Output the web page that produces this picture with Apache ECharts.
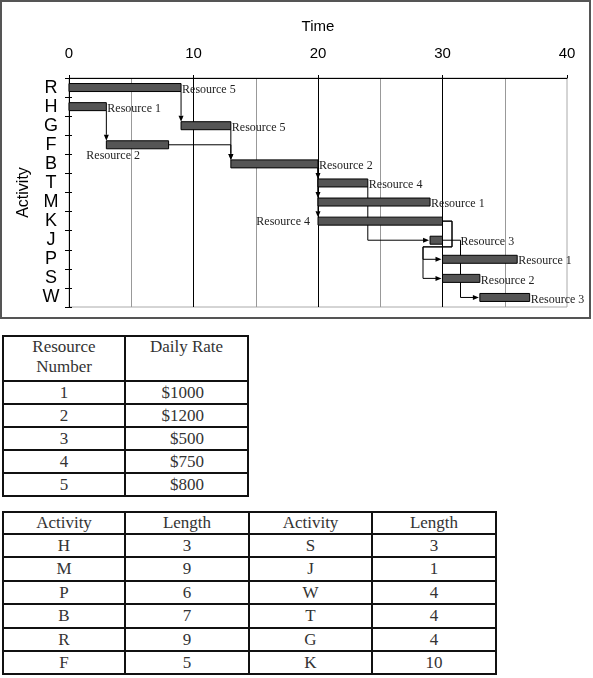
<!DOCTYPE html>
<html><head><meta charset="utf-8">
<script src="https://cdn.jsdelivr.net/npm/echarts@6/dist/echarts.min.js"></script>
<style>
html,body{margin:0;padding:0;background:#fff;width:593px;height:678px;overflow:hidden;}
#chart{position:absolute;left:0;top:0;width:593px;height:320px;}
#frame{position:absolute;left:0;top:0;width:591px;height:319px;box-sizing:border-box;border:2px solid #555;pointer-events:none;}
.cell{position:absolute;box-sizing:border-box;border:2px solid #111;font-family:'Liberation Serif',serif;font-size:17px;color:#333;display:flex;align-items:center;justify-content:center;}
</style></head><body>
<div id="chart"></div><div id="frame"></div><div id="tables"></div>
<script>
// ---- Gantt data ----
const activities = ['R','H','G','F','B','T','M','K','J','P','S','W'];
const startTimes = [0, 0, 9, 3, 13, 20, 20, 20, 29, 30, 30, 33];
const durations  = [9, 3, 4, 5, 7, 4, 9, 10, 1, 6, 3, 4];
const resourceIds = [5, 1, 5, 2, 2, 4, 1, 4, 3, 1, 2, 3];
const precedence = [['R','G'],['H','F'],['G','B'],['F','B'],['B','T'],['B','M'],['B','K'],['T','J'],['J','W'],['K','P'],['K','S']];

// ---- table data ----
const resourceNumbers = [1, 2, 3, 4, 5];
const dailyRates = ['$1000', '$1200', '$500', '$750', '$800'];
const tableActivities = ['H','M','P','B','R','F','S','J','W','T','G','K'];
const tableLengths = [3, 9, 6, 7, 9, 5, 3, 1, 4, 4, 4, 10];

// ---- styling / routing (not data) ----
const linkRoute = {'F-B':'hv','T-J':'vh','J-W':'elbow','K-P':'bracket','K-S':'bracket'};
const labelPlace = {F:'below', K:'left', J:'far'};
const barH = 8, AL = 6, AW = 2.5;

const chart = echarts.init(document.getElementById('chart'));

const barData = activities.map((a,i)=>[startTimes[i], startTimes[i]+durations[i], i, resourceIds[i]]);
const linkData = precedence.map(([f,t])=>{
  const fi = activities.indexOf(f), ti = activities.indexOf(t);
  return [startTimes[fi]+durations[fi], fi, ti];
});

function renderBar(params, api){
  const s = api.value(0), e = api.value(1), i = api.value(2), r = api.value(3);
  const p0 = api.coord([s,i]), p1 = api.coord([e,i]);
  const cy = p0[1];
  const place = labelPlace[activities[i]] || 'right';
  let tx, ty, align = 'left';
  if (place==='right'){tx=p1[0]+1; ty=cy+2;}
  else if (place==='far'){tx=p1[0]+18; ty=cy+2;}
  else if (place==='left'){tx=p0[0]-8; ty=cy+1; align='right';}
  else {tx=p0[0]-20; ty=cy+11;}
  return {type:'group', children:[
    {type:'rect', shape:{x:p0[0], y:cy-barH/2, width:p1[0]-p0[0], height:barH},
     style:{fill:'#555', stroke:'#000', lineWidth:1}},
    {type:'text', style:{text:'Resource '+r, x:tx, y:ty, align:align, verticalAlign:'middle',
     fontSize:12, fontFamily:'Liberation Serif', fill:'#222'}}
  ]};
}

function arrowDown(x,y){return [[x,y],[x-AW,y-AL],[x+AW,y-AL]];}
function arrowRight(x,y){return [[x,y],[x-AL,y-AW],[x-AL,y+AW]];}

function renderLink(params, api){
  const fi = api.value(1), ti = api.value(2);
  const route = linkRoute[activities[fi]+'-'+activities[ti]] || 'drop';
  const fe = api.coord([startTimes[fi]+durations[fi], fi]);
  const ts = api.coord([startTimes[ti], ti]);
  const band = api.size([0,1])[1];
  const h = barH/2;
  let pts, arrow;
  if (route==='drop'){
    pts = [[fe[0], fe[1]+h],[fe[0], ts[1]-h-AL]];
    arrow = arrowDown(fe[0], ts[1]-h);
  } else if (route==='hv'){
    pts = [[fe[0], fe[1]],[ts[0], fe[1]],[ts[0], ts[1]-h-AL]];
    arrow = arrowDown(ts[0], ts[1]-h);
  } else if (route==='vh'){
    pts = [[fe[0], fe[1]+h],[fe[0], ts[1]],[ts[0]-AL, ts[1]]];
    arrow = arrowRight(ts[0]-1, ts[1]);
  } else if (route==='elbow'){
    const xr = fe[0]+18;
    pts = [[fe[0], fe[1]],[xr, fe[1]],[xr, ts[1]],[ts[0]-AL, ts[1]]];
    arrow = arrowRight(ts[0]-1, ts[1]);
  } else {
    const xr = fe[0]+9.5, yb = fe[1]+1.35*band, xl = ts[0]-19.5;
    pts = [[fe[0], fe[1]],[xr, fe[1]],[xr, yb],[xl, yb],[xl, ts[1]],[ts[0]-AL, ts[1]]];
    arrow = arrowRight(ts[0]-1, ts[1]);
  }
  return {type:'group', children:[
    {type:'polyline', shape:{points:pts}, style:{stroke:'#000', lineWidth:1, fill:null}},
    {type:'polygon', shape:{points:arrow}, style:{fill:'#000', stroke:null}}
  ]};
}

chart.setOption({
  animation:false,
  backgroundColor:'#fff',
  textStyle:{fontFamily:'Liberation Sans'},
  grid:{left:69, right:26, top:78, bottom:13, show:true, borderColor:'#aaa', borderWidth:1, containLabel:false, outerBoundsMode:'none'},
  xAxis:{type:'value', position:'top', min:0, max:40, interval:10,
    name:'Time', nameLocation:'middle', nameGap:44,
    nameTextStyle:{fontSize:15, color:'#000', fontFamily:'Liberation Sans'},
    axisLine:{show:true, lineStyle:{color:'#000', width:1}},
    axisTick:{show:true, length:3, lineStyle:{color:'#000'}},
    axisLabel:{fontSize:15, color:'#000', margin:17, fontFamily:'Liberation Sans'},
    splitLine:{show:true, showMaxLine:false, lineStyle:{color:'#000', width:1}},
    minorTick:{show:false, splitNumber:2},
    minorSplitLine:{show:true, lineStyle:{color:'#999', width:1}}
  },
  yAxis:[
    {type:'category', data:activities, inverse:true,
     name:'Activity', nameLocation:'middle', nameGap:35, nameRotate:90,
     nameTextStyle:{fontSize:16, color:'#000', fontFamily:'Liberation Sans'},
     axisLine:{show:true, lineStyle:{color:'#000', width:1}},
     axisTick:{show:true, interval:0, length:4, lineStyle:{color:'#000'}},
     axisLabel:{interval:0, fontSize:18, color:'#000', align:'center', margin:18, fontFamily:'Liberation Sans'},
     splitLine:{show:false}},
    {type:'category', data:activities, inverse:true, position:'left',
     axisLine:{show:false},
     axisTick:{show:true, interval:0, inside:true, length:3, lineStyle:{color:'#000'}},
     axisLabel:{show:false, interval:0}, splitLine:{show:false}}
  ],
  series:[
    {type:'custom', name:'links', renderItem:renderLink, data:linkData, z:2, silent:true, clip:false},
    {type:'custom', name:'bars', renderItem:renderBar, data:barData, z:3, silent:true, clip:false}
  ]
});

// ---- tables ----
const host = document.getElementById('tables');
function buildTable(left, top, colW, rowH, rows, cellStyle){
  let y = top;
  rows.forEach((row, r)=>{
    let x = left;
    row.forEach((txt, c)=>{
      const d = document.createElement('div');
      d.className = 'cell';
      d.style.left = (x-1)+'px'; d.style.top = (y-1)+'px';
      d.style.width = (colW[c]+2)+'px'; d.style.height = (rowH[r]+2)+'px';
      d.innerHTML = txt;
      if (cellStyle) cellStyle(d, r, c);
      host.appendChild(d);
      x += colW[c];
    });
    y += rowH[r];
  });
}
const t1 = [['Resource<br>Number','Daily Rate']].concat(resourceNumbers.map((n,i)=>[String(n), dailyRates[i]]));
buildTable(3, 336, [122,123], [45,23,23,23,23,23], t1, (d,r,c)=>{
  if (r===0){ d.style.alignItems='flex-start'; d.style.lineHeight='20px'; d.style.textAlign='center'; }
  else if (c===1){ d.style.justifyContent='flex-end'; d.style.paddingRight='43px'; }
});
const t2 = [['Activity','Length','Activity','Length']];
for (let i=0;i<6;i++) t2.push([tableActivities[i], String(tableLengths[i]), tableActivities[i+6], String(tableLengths[i+6])]);
buildTable(3, 512, [122,124,123,124], [22,23,24,23,24,23,23], t2);
</script>
</body></html>
